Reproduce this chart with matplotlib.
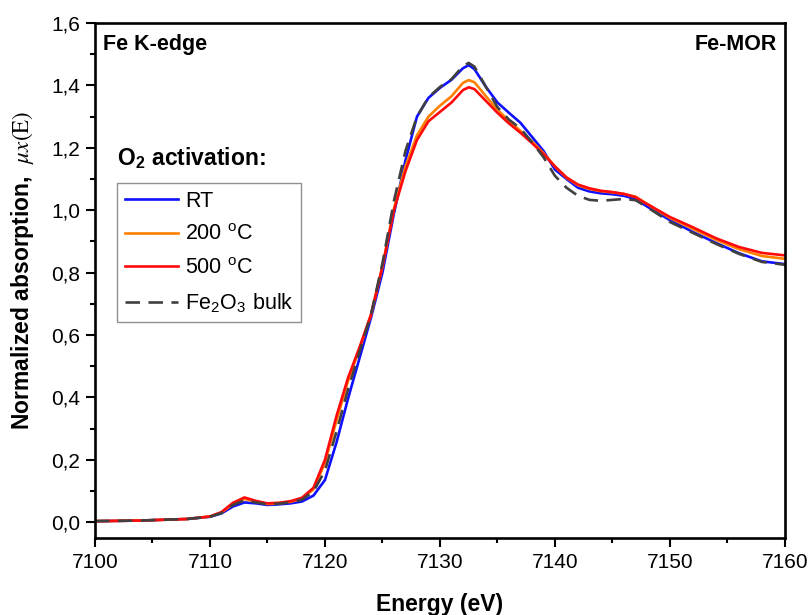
import matplotlib
matplotlib.use("Agg")
import matplotlib.pyplot as plt
from matplotlib.ticker import MultipleLocator, FuncFormatter

plt.rcParams['font.family'] = ['Liberation Sans', 'DejaVu Sans']
plt.rcParams['mathtext.fontset'] = 'stix'

# Fe K-edge XANES, normalized
energy = [7100, 7104, 7108, 7110, 7111, 7112, 7113, 7114, 7115, 7116, 7117,
          7118, 7119, 7120, 7121, 7122, 7123, 7124, 7125, 7126, 7127, 7128,
          7129, 7130, 7131, 7132, 7132.5, 7133, 7134, 7135, 7136, 7137, 7138,
          7139, 7140, 7141, 7142, 7143, 7144, 7145, 7146, 7147, 7148, 7150,
          7152, 7154, 7156, 7158, 7160]

mu_rt = [0.003, 0.005, 0.010, 0.017, 0.028, 0.050, 0.063, 0.060, 0.055, 0.057,
         0.060, 0.066, 0.085, 0.135, 0.255, 0.395, 0.525, 0.655, 0.800, 0.990,
         1.160, 1.300, 1.360, 1.392, 1.418, 1.455, 1.465, 1.452, 1.395, 1.345,
         1.312, 1.280, 1.235, 1.190, 1.130, 1.100, 1.072, 1.060, 1.054, 1.051,
         1.046, 1.036, 1.012, 0.968, 0.930, 0.895, 0.862, 0.836, 0.827]

mu_200 = [0.003, 0.005, 0.010, 0.018, 0.031, 0.058, 0.074, 0.066, 0.058, 0.060,
          0.065, 0.075, 0.105, 0.190, 0.325, 0.452, 0.555, 0.665, 0.820, 1.005,
          1.140, 1.240, 1.300, 1.335, 1.365, 1.408, 1.417, 1.410, 1.365, 1.322,
          1.286, 1.254, 1.220, 1.183, 1.140, 1.104, 1.080, 1.068, 1.061, 1.057,
          1.052, 1.043, 1.020, 0.975, 0.940, 0.905, 0.875, 0.853, 0.844]

mu_500 = [0.003, 0.005, 0.010, 0.018, 0.032, 0.062, 0.079, 0.068, 0.060, 0.062,
          0.067, 0.078, 0.110, 0.200, 0.340, 0.462, 0.560, 0.665, 0.820, 1.000,
          1.125, 1.225, 1.285, 1.315, 1.345, 1.385, 1.394, 1.388, 1.350, 1.312,
          1.278, 1.248, 1.215, 1.180, 1.140, 1.105, 1.082, 1.070, 1.062, 1.058,
          1.052, 1.042, 1.020, 0.978, 0.945, 0.910, 0.882, 0.863, 0.855]

mu_fe2o3 = [0.003, 0.005, 0.010, 0.017, 0.029, 0.055, 0.070, 0.063, 0.057, 0.059,
            0.063, 0.072, 0.098, 0.165, 0.290, 0.425, 0.545, 0.665, 0.830, 1.030,
            1.190, 1.300, 1.362, 1.395, 1.420, 1.462, 1.472, 1.460, 1.395, 1.330,
            1.290, 1.262, 1.218, 1.170, 1.110, 1.072, 1.046, 1.033, 1.030, 1.033,
            1.036, 1.032, 1.010, 0.962, 0.927, 0.892, 0.860, 0.834, 0.825]

labels = ["RT", "200 $^{\\mathregular{o}}$C", "500 $^{\\mathregular{o}}$C",
          "Fe$_{\\mathregular{2}}$O$_{\\mathregular{3}}$ bulk"]

fig = plt.figure(figsize=(8.11, 6.15), dpi=100)
ax = fig.add_axes([0.1171, 0.1252, 0.8508, 0.8374])

ax.plot(energy, mu_rt, color="#1010ff", lw=1.9, label=labels[0])
ax.plot(energy, mu_200, color="#ff8000", lw=1.9, label=labels[1])
ax.plot(energy, mu_500, color="#ff0a0a", lw=1.9, label=labels[2])
ax.plot(energy, mu_fe2o3, color="#404040", lw=1.9, ls=(0, (5.5, 3.2)),
        label=labels[3])

ax.set_xlim(7100, 7160)
ax.set_ylim(-0.051, 1.6)
ax.xaxis.set_major_locator(MultipleLocator(10))
ax.xaxis.set_minor_locator(MultipleLocator(5))
ax.yaxis.set_major_locator(MultipleLocator(0.2))
ax.yaxis.set_minor_locator(MultipleLocator(0.1))
ax.yaxis.set_major_formatter(FuncFormatter(lambda v, p: f"{v:.1f}".replace(".", ",")))

for s in ax.spines.values():
    s.set_linewidth(1.9)
ax.tick_params(which="both", direction="out", top=False, right=False,
               width=1.5, labelsize=15)
ax.tick_params(which="major", length=6.5, pad=4)
ax.tick_params(which="minor", length=3.5)

ax.set_xlabel("Energy (eV)", fontsize=16.5, fontweight="bold", va="top")
ax.xaxis.set_label_coords(0.5, -0.106)
ax.set_ylabel("Normalized absorption,  $\\mu x(\\mathrm{E})$", fontsize=16.5,
              fontweight="bold")
ax.yaxis.set_label_coords(-0.086, 0.52)

ax.text(0.0116, 0.959, "Fe K-edge", transform=ax.transAxes, fontsize=15.5,
        fontweight="bold", ha="left", va="center")
ax.text(0.988, 0.959, "Fe-MOR", transform=ax.transAxes, fontsize=15.5,
        fontweight="bold", ha="right", va="center")
ax.text(0.032, 0.738, "O$_{\\mathregular{2}}$ activation:", transform=ax.transAxes,
        fontsize=16.5, fontweight="bold", ha="left", va="center")

leg = ax.legend(loc="upper left", bbox_to_anchor=(0.032, 0.689), fontsize=15.5,
                handlelength=2.5, handletextpad=0.3, labelspacing=0.58,
                borderaxespad=0, borderpad=0.35, fancybox=False, framealpha=1,
                edgecolor="#909090")
leg.get_frame().set_linewidth(1.0)

fig.savefig("out.png", dpi=100)
